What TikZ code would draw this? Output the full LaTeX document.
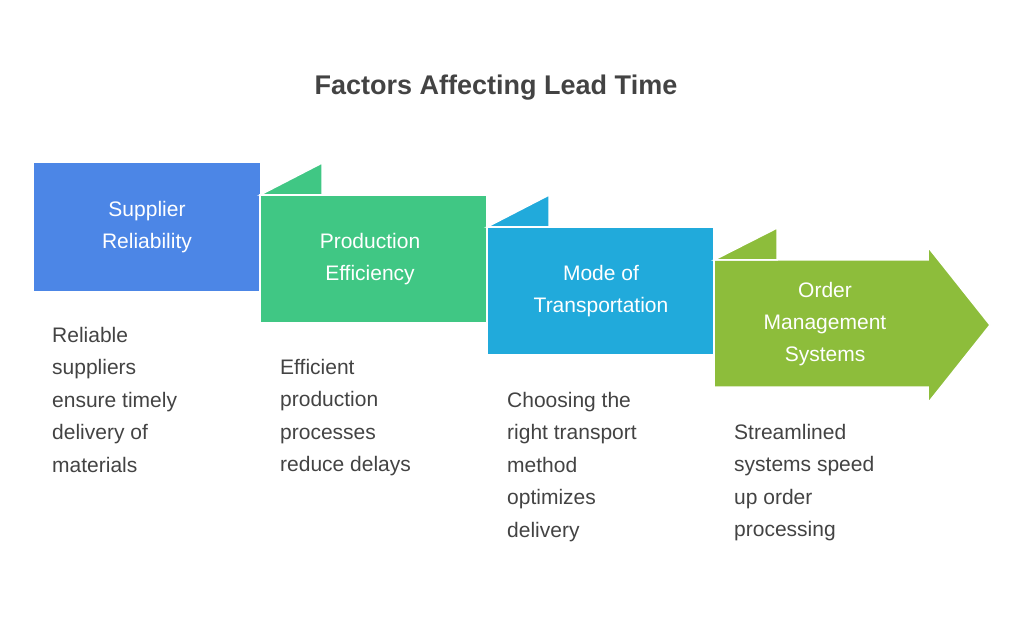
\documentclass[tikz,border=0pt]{standalone}
\usepackage{fontspec}
\setmainfont{Liberation Sans}
\definecolor{cblue}{HTML}{4C86E6}
\definecolor{cgreen}{HTML}{40C784}
\definecolor{ccyan}{HTML}{21AADB}
\definecolor{clime}{HTML}{8DBD3B}
\definecolor{ctext}{HTML}{434343}
\tikzset{
  panel/.style={draw=white, line width=1.5pt, line join=miter},
  lbl/.style={text=white, font=\fontsize{21}{32}\selectfont, align=center},
  desc/.style={text=ctext, font=\fontsize{21}{32.5}\selectfont, align=left, anchor=north west, inner sep=0pt}
}
\begin{document}
\begin{tikzpicture}[x=1pt,y=-1pt]
  \useasboundingbox (0,0) rectangle (1024,617);
  % title
  \node[text=ctext, font=\fontsize{27}{32}\selectfont\bfseries] (title) at (496,88) {Factors Affecting Lead Time};
  % panels
  \fill[cblue] (34,163) rectangle (260,291);
  \filldraw[cgreen, panel] (260,195) rectangle (487,323);
  \filldraw[cgreen, panel] (260,195) -- (322,163) -- (322,195) -- cycle;
  \filldraw[ccyan, panel] (487,227) rectangle (714,355);
  \filldraw[ccyan, panel] (487,227) -- (549,195) -- (549,227) -- cycle;
  \filldraw[clime, panel] (714,260) -- (928,260) -- (928,247) -- (990,325) -- (928,403) -- (928,387) -- (714,387) -- cycle;
  \filldraw[clime, panel] (714,260) -- (777,228) -- (777,260) -- cycle;
  % labels
  \node[lbl] (supplier) at (147,227) {Supplier\\Reliability};
  \node[lbl] (production) at (370,259) {Production\\Efficiency};
  \node[lbl] (transport) at (601,291) {Mode of\\Transportation};
  \node[lbl] (order) at (825,324) {Order\\Management\\Systems};
  % descriptions
  \node[desc] (d1) at (52,327) {Reliable\\suppliers\\ensure timely\\delivery of\\materials};
  \node[desc] (d2) at (280,359) {Efficient\\production\\processes\\reduce delays};
  \node[desc] (d3) at (507,392) {Choosing the\\right transport\\method\\optimizes\\delivery};
  \node[desc] (d4) at (734,424) {Streamlined\\systems speed\\up order\\processing};
\end{tikzpicture}
\end{document}
